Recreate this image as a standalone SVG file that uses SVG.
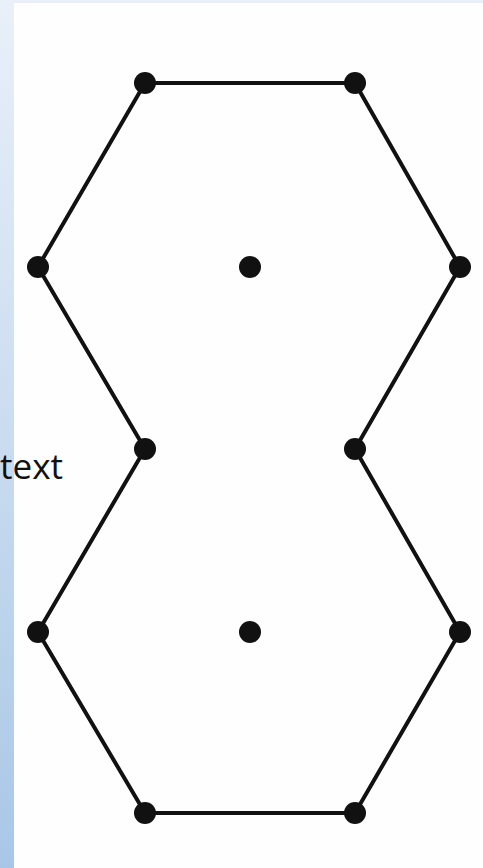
<svg xmlns="http://www.w3.org/2000/svg" width="483" height="868" viewBox="0 0 483 868">
<defs>
<linearGradient id="strip" x1="0" y1="0" x2="0" y2="1">
<stop offset="0" stop-color="#e9f0f9"/>
<stop offset="0.5" stop-color="#cadcf0"/>
<stop offset="1" stop-color="#a8c7e7"/>
</linearGradient>
<style>
.edge{stroke:#111;stroke-width:4;fill:none;stroke-linejoin:round}
.dot{fill:#111}
.lbl{font-family:"Open Sans","Liberation Sans",sans-serif;font-size:34px;fill:#111}
</style>
</defs>
<rect width="483" height="868" fill="#fefefe"/>
<rect x="0" y="0" width="483" height="3" fill="#e8eff8"/>
<rect x="0" y="0" width="14" height="868" fill="url(#strip)"/>
<g id="connectors">
<polygon class="edge" points="145,83 355,83 460,267 355,449 460,632 355,813 145,813 38,632 145,449 38,267"/>
</g>
<g id="n1"><circle class="dot" cx="145" cy="83" r="11"/></g>
<g id="n2"><circle class="dot" cx="355" cy="83" r="11"/></g>
<g id="n3"><circle class="dot" cx="38" cy="267" r="11"/></g>
<g id="n4"><circle class="dot" cx="460" cy="267" r="11"/></g>
<g id="n5"><circle class="dot" cx="250" cy="267" r="11"/></g>
<g id="n6"><circle class="dot" cx="145" cy="449" r="11"/></g>
<g id="n7"><circle class="dot" cx="355" cy="449" r="11"/></g>
<g id="n8"><circle class="dot" cx="38" cy="632" r="11"/></g>
<g id="n9"><circle class="dot" cx="460" cy="632" r="11"/></g>
<g id="n10"><circle class="dot" cx="250" cy="632" r="11"/></g>
<g id="n11"><circle class="dot" cx="145" cy="813" r="11"/></g>
<g id="n12"><circle class="dot" cx="355" cy="813" r="11"/></g>
<g id="label"><text class="lbl" x="0" y="479" textLength="63" lengthAdjust="spacingAndGlyphs">text</text></g>
</svg>
